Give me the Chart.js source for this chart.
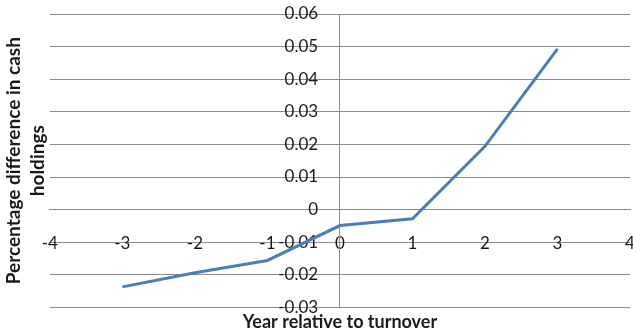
<!DOCTYPE html>
<html lang="en">
<head>
<meta charset="UTF-8">
<title>Cash holdings around turnover</title>
<script src="https://cdn.jsdelivr.net/npm/chart.js"></script>
<style>
  html, body { margin: 0; padding: 0; background: #fff; }
  .wrap { width: 633px; height: 336px; }
</style>
</head>
<body>
<div class="wrap"><canvas id="chart"></canvas></div>
<script>
  // values
  const years = [-3, -2, -1, 0, 1, 2, 3];
  const cashDiff = [-0.0237, -0.0194, -0.0156, -0.0049, -0.0028, 0.0194, 0.0493];
  const xTicks = [-4, -3, -2, -1, 0, 1, 2, 3, 4];
  const yTicks = [-0.03, -0.02, -0.01, 0, 0.01, 0.02, 0.03, 0.04, 0.05, 0.06];

  const gridColor = '#8c8c8c';
  const textColor = '#1a1a1a';

  Chart.defaults.font.family = 'Lato';
  Chart.defaults.color = textColor;

  // axes sit inside the plot, so they should not push the plot area inwards
  function noPadding(scale) {
    scale.paddingLeft = 0;
    scale.paddingRight = 0;
    scale.paddingTop = 0;
    scale.paddingBottom = 0;
  }

  new Chart(document.getElementById('chart'), {
    type: 'scatter',
    data: {
      datasets: [{
        data: years.map((x, i) => ({ x: x, y: cashDiff[i] })),
        showLine: true,
        borderColor: '#4a7ebb',
        borderWidth: 3,
        pointRadius: 0,
        tension: 0
      }]
    },
    options: {
      responsive: true,
      maintainAspectRatio: false,
      animation: false,
      layout: { padding: { top: 14, right: 3, bottom: 0, left: 0 } },
      plugins: {
        legend: { display: false },
        tooltip: { enabled: false },
        title: {
          display: true,
          position: 'left',
          fullSize: false,
          text: ['Percentage difference in cash', 'holdings'],
          font: { size: 19, weight: 'bold', lineHeight: 1.26 },
          color: textColor,
          padding: { top: 2, bottom: 0 }
        },
        subtitle: {
          display: true,
          position: 'bottom',
          fullSize: false,
          text: 'Year relative to turnover',
          font: { size: 18, weight: 'bold', lineHeight: 1.2 },
          color: textColor,
          padding: { top: 4, bottom: 3 }
        }
      },
      scales: {
        x: {
          type: 'linear',
          position: { y: 0 },
          min: -4,
          max: 4,
          afterBuildTicks: s => { s.ticks = xTicks.map(v => ({ value: v })); },
          afterFit: noPadding,
          grid: { display: false, drawTicks: false },
          border: { display: true, color: gridColor, width: 1 },
          ticks: { padding: 24, font: { size: 17 }, color: textColor, maxRotation: 0 }
        },
        y: {
          type: 'linear',
          position: { x: 0 },
          min: -0.03,
          max: 0.06,
          afterBuildTicks: s => { s.ticks = yTicks.map(v => ({ value: v })); },
          afterFit: noPadding,
          grid: { color: gridColor, drawTicks: false },
          border: { display: true, color: gridColor, width: 1 },
          ticks: {
            font: { size: 17 },
            color: textColor,
            // trailing spaces keep the labels clear of the axis line
            callback: v => String(Number(v.toFixed(2))) + '     '
          }
        }
      }
    }
  });
</script>
</body>
</html>
